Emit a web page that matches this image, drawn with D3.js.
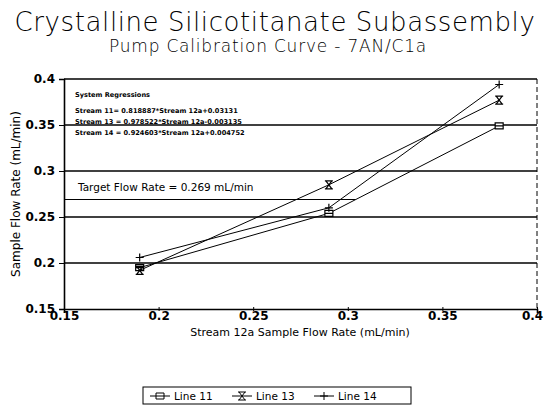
<!DOCTYPE html>
<html>
<head>
<meta charset="utf-8">
<script src="https://cdn.jsdelivr.net/npm/d3@7"></script>
<style>
  body { margin: 0; background: #fff; }
  text { fill: #000; }
</style>
</head>
<body>
<div id="chart"></div>
<script>
// values
var flowX = [0.19, 0.29, 0.38];
var line11 = [0.195, 0.254, 0.349];
var line13 = [0.192, 0.285, 0.377];
var line14 = [0.206, 0.260, 0.394];
var seriesNames = ["Line 11", "Line 13", "Line 14"];
var xTicks = [0.15, 0.2, 0.25, 0.3, 0.35, 0.4];
var yTicks = [0.15, 0.2, 0.25, 0.3, 0.35, 0.4];
var targetRate = 0.269;
var regressionLines = [
  "System Regressions",
  "Stream 11= 0.818887*Stream 12a+0.03131",
  "Stream 13 = 0.978522*Stream 12a-0.003135",
  "Stream 14 = 0.924603*Stream 12a+0.004752"
];

var width = 545, height = 411;
var margin = {left: 64, right: 8, top: 79, bottom: 102};

var svg = d3.select("#chart").append("svg")
    .attr("width", width)
    .attr("height", height);

var x = d3.scaleLinear().domain([0.15, 0.4]).range([margin.left, width - margin.right]);
var y = d3.scaleLinear().domain([0.15, 0.4]).range([height - margin.bottom, margin.top]);

// titles
svg.append("text")
    .attr("x", 275).attr("y", 31)
    .attr("text-anchor", "middle")
    .style("font-family", "DejaVu Sans")
    .style("font-weight", 300)
    .style("font-size", "26px")
    .style("letter-spacing", "0.6px")
    .text("Crystalline Silicotitanate Subassembly");
svg.append("text")
    .attr("x", 268).attr("y", 52)
    .attr("text-anchor", "middle")
    .style("font-family", "DejaVu Sans")
    .style("font-weight", 300)
    .style("font-size", "17px")
    .style("letter-spacing", "0.8px")
    .text("Pump Calibration Curve - 7AN/C1a");

// horizontal grid lines
svg.selectAll(".grid")
    .data(yTicks.slice(1))
    .enter().append("line")
    .attr("x1", x(0.15)).attr("x2", x(0.4))
    .attr("y1", function(d) { return y(d); })
    .attr("y2", function(d) { return y(d); })
    .attr("stroke", "#000")
    .attr("stroke-width", 1.4);

// dashed right border
svg.append("line")
    .attr("x1", x(0.4)).attr("x2", x(0.4))
    .attr("y1", y(0.4)).attr("y2", y(0.15))
    .attr("stroke", "#000")
    .attr("stroke-dasharray", "5,3");

// axes
var xAxis = d3.axisBottom(x).tickValues(xTicks).tickSize(4).tickPadding(0).tickFormat(d3.format("~g"));
var yAxis = d3.axisLeft(y).tickValues(yTicks).tickSize(5).tickFormat(d3.format("~g"));

var gx = svg.append("g")
    .attr("transform", "translate(0," + y(0.15) + ")")
    .call(xAxis);
var gy = svg.append("g")
    .attr("transform", "translate(" + x(0.15) + ",0)")
    .call(yAxis);

[gx, gy].forEach(function(g) {
  g.select(".domain").attr("stroke-width", 1.6);
  g.selectAll("text")
    .style("font-family", "DejaVu Sans")
    .style("font-weight", "bold")
    .style("font-size", "12px");
});
gx.selectAll(".tick line").attr("transform", "translate(0,-2)");
gx.selectAll("text").attr("dy", "0.55em")
    .attr("dx", function(d) { return d === 0.4 ? "-5px" : "0"; });
gy.selectAll("text").attr("dx", "-1px");

// axis titles
svg.append("text")
    .attr("x", 300).attr("y", 336)
    .attr("text-anchor", "middle")
    .style("font-family", "DejaVu Sans")
    .style("font-size", "11px")
    .text("Stream 12a Sample Flow Rate (mL/min)");
svg.append("text")
    .attr("transform", "translate(20," + y(0.275) + ") rotate(-90)")
    .attr("text-anchor", "middle")
    .style("font-family", "DejaVu Sans")
    .style("font-size", "12px")
    .text("Sample Flow Rate (mL/min)");

// regression notes
var regY = [97, 113, 124, 135];
svg.selectAll(".reg")
    .data(regressionLines)
    .enter().append("text")
    .attr("x", 75)
    .attr("y", function(d, i) { return regY[i]; })
    .style("font-family", "DejaVu Sans")
    .style("font-weight", "bold")
    .style("font-size", "6.6px")
    .text(function(d) { return d; });

// target flow rate
svg.append("line")
    .attr("x1", x(0.15)).attr("x2", x(0.304))
    .attr("y1", y(targetRate)).attr("y2", y(targetRate))
    .attr("stroke", "#000")
    .attr("stroke-width", 1.2);
svg.append("text")
    .attr("x", 78).attr("y", y(targetRate) - 9)
    .style("font-family", "DejaVu Sans")
    .style("font-size", "10.5px")
    .text("Target Flow Rate = 0.269 mL/min");

// markers
function marker(type) {
  if (type === 0) return "M-4,-3H4V3H-4Z M-4,0H4";
  if (type === 1) return "M-4,-4H4 M-4,4H4 M-3,-4L3,4 M3,-4L-3,4";
  return "M-4,0H4 M0,-4V4";
}

var series = [line11, line13, line14];
var lineGen = d3.line()
    .x(function(d) { return x(d[0]); })
    .y(function(d) { return y(d[1]); });

series.forEach(function(vals, s) {
  var pts = flowX.map(function(v, i) { return [v, vals[i]]; });
  svg.append("path")
      .attr("d", lineGen(pts))
      .attr("fill", "none")
      .attr("stroke", "#000")
      .attr("stroke-width", 1);
  svg.selectAll(".m" + s)
      .data(pts)
      .enter().append("path")
      .attr("transform", function(d) { return "translate(" + x(d[0]) + "," + y(d[1]) + ")"; })
      .attr("d", marker(s))
      .attr("fill", s === 0 ? "#fff" : "none")
      .attr("stroke", "#000")
      .attr("stroke-width", 1.2);
});

// legend
var legend = svg.append("g");
legend.append("rect")
    .attr("x", 143).attr("y", 387)
    .attr("width", 268).attr("height", 17)
    .attr("fill", "none")
    .attr("stroke", "#000")
    .attr("stroke-width", 1);
var legendX = [150, 232, 314];
seriesNames.forEach(function(name, s) {
  var g = legend.append("g").attr("transform", "translate(" + legendX[s] + ",396)");
  g.append("line").attr("x1", 0).attr("x2", 20).attr("stroke", "#000");
  g.append("path").attr("transform", "translate(10,0)")
      .attr("d", marker(s))
      .attr("fill", s === 0 ? "#fff" : "none")
      .attr("stroke", "#000");
  g.append("text")
      .attr("x", 24).attr("y", 4)
      .style("font-family", "DejaVu Sans")
      .style("font-size", "10.5px")
      .text(name);
});
</script>
</body>
</html>
